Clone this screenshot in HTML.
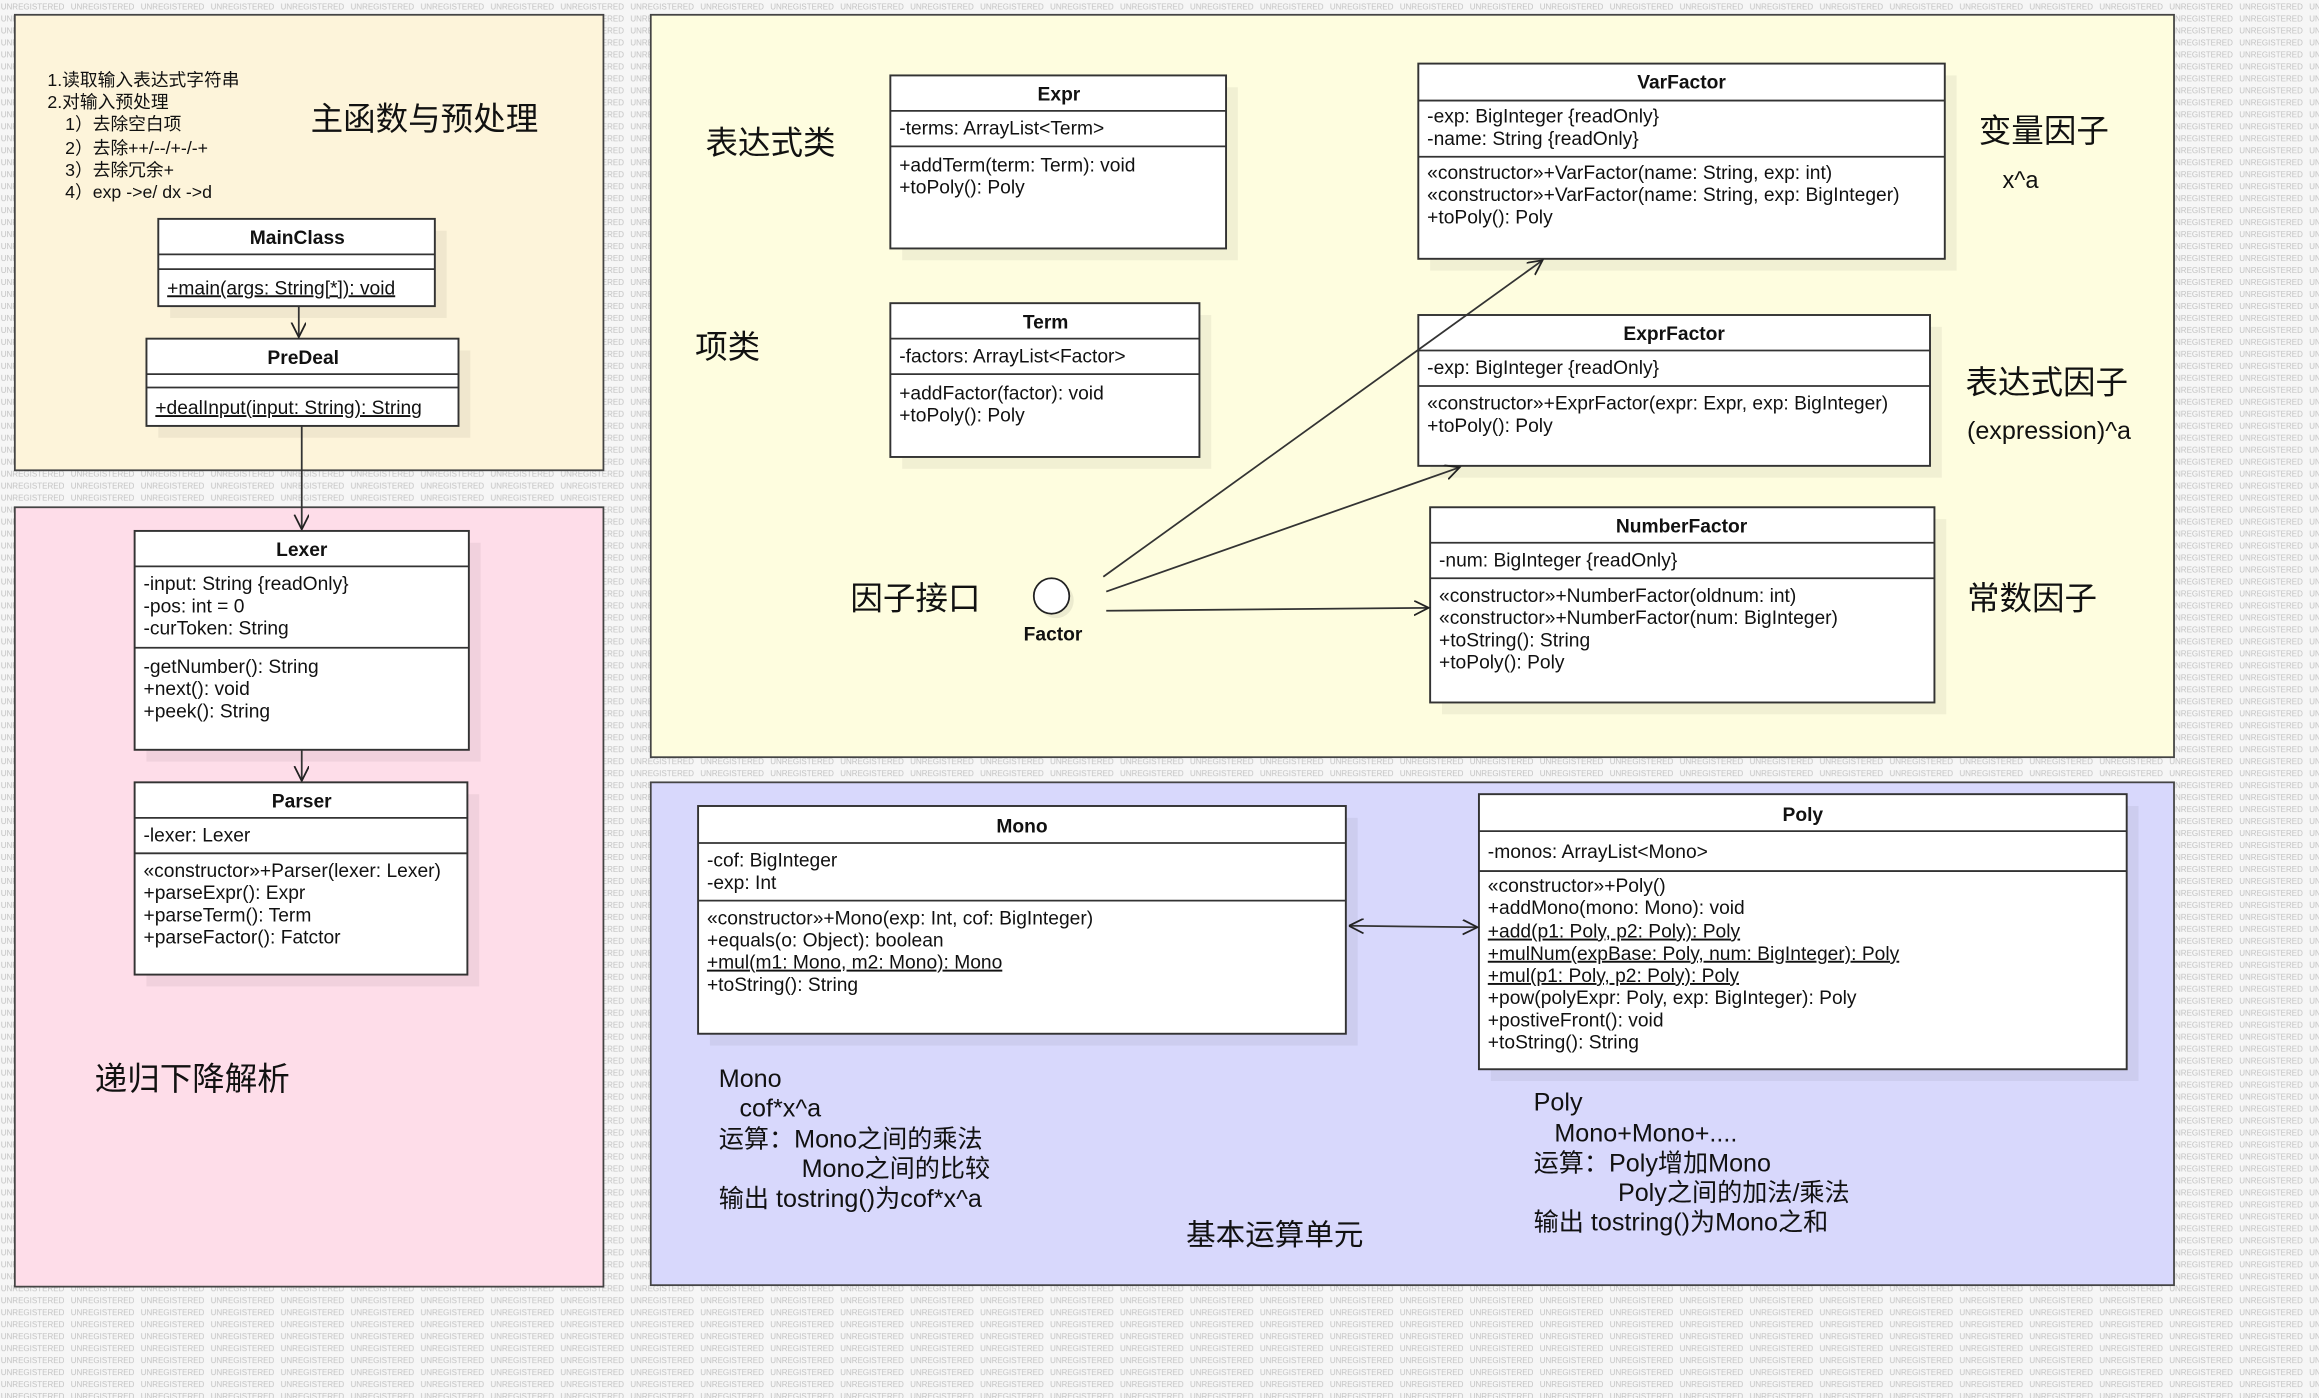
<!DOCTYPE html>
<html><head><meta charset="utf-8"><style>
html,body{margin:0;padding:0;background:#eeeeee;}
svg{display:block}
.t{font-family:"Liberation Sans","Noto Sans CJK SC",sans-serif;font-size:13px;fill:#111}
.b{font-weight:bold;text-anchor:middle}
.c{font-family:"Liberation Sans","Noto Sans CJK SC",sans-serif;fill:#111}
.box{fill:#fff;stroke:#333;stroke-width:1.3}
.sh{fill:#000;opacity:0.05}
.ln{stroke:#333;stroke-width:1.2}
.u{text-decoration:underline}
</style></head><body>
<svg width="2319" height="1398" viewBox="0 0 1568 945.3" xmlns="http://www.w3.org/2000/svg">
<defs>
<pattern id="wm" width="47.3" height="8.1" patternUnits="userSpaceOnUse">
<text x="0.5" y="6.5" font-family="Liberation Sans,sans-serif" font-size="5.5" fill="#c2c2c2" textLength="43" lengthAdjust="spacingAndGlyphs">UNREGISTERED</text>
</pattern>
<marker id="ar" markerWidth="12" markerHeight="12" refX="10" refY="5" orient="auto" markerUnits="userSpaceOnUse"><path d="M0,0 L10,5 L0,10" fill="none" stroke="#222" stroke-width="1.2"/></marker>
<marker id="as" markerWidth="12" markerHeight="12" refX="0" refY="5" orient="auto" markerUnits="userSpaceOnUse"><path d="M10,0 L0,5 L10,10" fill="none" stroke="#222" stroke-width="1.2"/></marker>
</defs>
<rect width="1568" height="946" fill="#f6f6f6"/>
<rect width="1568" height="946" fill="url(#wm)"/>

<rect x="10" y="10" width="398" height="308" fill="#fdf4da" stroke="#444" stroke-width="1.2"/>
<rect x="10" y="343" width="398" height="527" fill="#fedde9" stroke="#444" stroke-width="1.2"/>
<rect x="440" y="10" width="1030" height="502" fill="#fefddf" stroke="#444" stroke-width="1.2"/>
<rect x="440" y="529" width="1030" height="340" fill="#d8d8fc" stroke="#444" stroke-width="1.2"/>

<g class="c" font-size="12">
<text x="32" y="58">1.读取输入表达式字符串</text>
<text x="32" y="73">2.对输入预处理</text>
<text x="44" y="88">1）去除空白项</text>
<text x="44" y="104">2）去除++/--/+-/-+</text>
<text x="44" y="119">3）去除冗余+</text>
<text x="44" y="134">4）exp -&gt;e/ dx -&gt;d</text>
</g>
<text class="c" x="210" y="88" font-size="22">主函数与预处理</text>

<rect class="sh" x="115" y="156" width="187" height="59"/>
<rect class="box" x="107" y="148" width="187" height="59"/>
<line class="ln" x1="107" y1="172" x2="294" y2="172"/><line class="ln" x1="107" y1="182" x2="294" y2="182"/>
<text class="t b" x="201" y="165">MainClass</text>
<text class="t u" x="113" y="199">+main(args: String[*]): void</text>

<rect class="sh" x="107" y="237" width="211" height="59"/>
<rect class="box" x="99" y="229" width="211" height="59"/>
<line class="ln" x1="99" y1="253" x2="310" y2="253"/><line class="ln" x1="99" y1="262" x2="310" y2="262"/>
<text class="t b" x="205" y="246">PreDeal</text>
<text class="t u" x="105" y="280">+dealInput(input: String): String</text>
<line class="ln" x1="202" y1="207" x2="202" y2="228" marker-end="url(#ar)"/>
<line class="ln" x1="204" y1="288" x2="204" y2="358" marker-end="url(#ar)"/>

<rect class="sh" x="99" y="367" width="226" height="148"/>
<rect class="box" x="91" y="359" width="226" height="148"/>
<line class="ln" x1="91" y1="383" x2="317" y2="383"/><line class="ln" x1="91" y1="438" x2="317" y2="438"/>
<text class="t b" x="204" y="376">Lexer</text>
<text class="t" x="97" y="399">-input: String {readOnly}</text>
<text class="t" x="97" y="414">-pos: int = 0</text>
<text class="t" x="97" y="429">-curToken: String</text>
<text class="t" x="97" y="455">-getNumber(): String</text>
<text class="t" x="97" y="470">+next(): void</text>
<text class="t" x="97" y="485">+peek(): String</text>
<line class="ln" x1="204" y1="507" x2="204" y2="528" marker-end="url(#ar)"/>

<rect class="sh" x="99" y="537" width="225" height="130"/>
<rect class="box" x="91" y="529" width="225" height="130"/>
<line class="ln" x1="91" y1="553" x2="316" y2="553"/><line class="ln" x1="91" y1="577" x2="316" y2="577"/>
<text class="t b" x="204" y="546">Parser</text>
<text class="t" x="97" y="569">-lexer: Lexer</text>
<text class="t" x="97" y="593">«constructor»+Parser(lexer: Lexer)</text>
<text class="t" x="97" y="608">+parseExpr(): Expr</text>
<text class="t" x="97" y="623">+parseTerm(): Term</text>
<text class="t" x="97" y="638">+parseFactor(): Fatctor</text>
<text class="c" x="64" y="737" font-size="22">递归下降解析</text>

<rect class="sh" x="610" y="59" width="227" height="117"/>
<rect class="box" x="602" y="51" width="227" height="117"/>
<line class="ln" x1="602" y1="75" x2="829" y2="75"/><line class="ln" x1="602" y1="99" x2="829" y2="99"/>
<text class="t b" x="716" y="68">Expr</text>
<text class="t" x="608" y="91">-terms: ArrayList&lt;Term&gt;</text>
<text class="t" x="608" y="116">+addTerm(term: Term): void</text>
<text class="t" x="608" y="131">+toPoly(): Poly</text>

<rect class="sh" x="610" y="213" width="209" height="104"/>
<rect class="box" x="602" y="205" width="209" height="104"/>
<line class="ln" x1="602" y1="229" x2="811" y2="229"/><line class="ln" x1="602" y1="253" x2="811" y2="253"/>
<text class="t b" x="707" y="222">Term</text>
<text class="t" x="608" y="245">-factors: ArrayList&lt;Factor&gt;</text>
<text class="t" x="608" y="270">+addFactor(factor): void</text>
<text class="t" x="608" y="285">+toPoly(): Poly</text>

<text class="c" x="477" y="104" font-size="22">表达式类</text>
<text class="c" x="470" y="242" font-size="22">项类</text>
<text class="c" x="575" y="412" font-size="22">因子接口</text>

<rect class="sh" x="967" y="51" width="356" height="132"/>
<rect class="box" x="959" y="43" width="356" height="132"/>
<line class="ln" x1="959" y1="68" x2="1315" y2="68"/><line class="ln" x1="959" y1="106" x2="1315" y2="106"/>
<text class="t b" x="1137" y="60">VarFactor</text>
<text class="t" x="965" y="83">-exp: BigInteger {readOnly}</text>
<text class="t" x="965" y="98">-name: String {readOnly}</text>
<text class="t" x="965" y="121">«constructor»+VarFactor(name: String, exp: int)</text>
<text class="t" x="965" y="136">«constructor»+VarFactor(name: String, exp: BigInteger)</text>
<text class="t" x="965" y="151">+toPoly(): Poly</text>

<rect class="sh" x="967" y="221" width="346" height="102"/>
<rect class="box" x="959" y="213" width="346" height="102"/>
<line class="ln" x1="959" y1="237" x2="1305" y2="237"/><line class="ln" x1="959" y1="261" x2="1305" y2="261"/>
<text class="t b" x="1132" y="230">ExprFactor</text>
<text class="t" x="965" y="253">-exp: BigInteger {readOnly}</text>
<text class="t" x="965" y="277">«constructor»+ExprFactor(expr: Expr, exp: BigInteger)</text>
<text class="t" x="965" y="292">+toPoly(): Poly</text>

<rect class="sh" x="975" y="351" width="341" height="132"/>
<rect class="box" x="967" y="343" width="341" height="132"/>
<line class="ln" x1="967" y1="367" x2="1308" y2="367"/><line class="ln" x1="967" y1="391" x2="1308" y2="391"/>
<text class="t b" x="1137" y="360">NumberFactor</text>
<text class="t" x="973" y="383">-num: BigInteger {readOnly}</text>
<text class="t" x="973" y="407">«constructor»+NumberFactor(oldnum: int)</text>
<text class="t" x="973" y="422">«constructor»+NumberFactor(num: BigInteger)</text>
<text class="t" x="973" y="437">+toString(): String</text>
<text class="t" x="973" y="452">+toPoly(): Poly</text>

<text class="c" x="1338" y="96" font-size="22">变量因子</text>
<text class="c" x="1354" y="127" font-size="16">x^a</text>
<text class="c" x="1329" y="266" font-size="22">表达式因子</text>
<text class="c" x="1330" y="297" font-size="17">(expression)^a</text>
<text class="c" x="1330" y="412" font-size="22">常数因子</text>

<circle cx="714" cy="406" r="12" fill="#000" opacity="0.07"/>
<circle cx="711" cy="403" r="12" fill="#fff" stroke="#222" stroke-width="1.2"/>
<text class="t b" x="712" y="433">Factor</text>
<line class="ln" x1="746" y1="390" x2="1043" y2="176" marker-end="url(#ar)"/>
<line class="ln" x1="748" y1="400" x2="987" y2="316" marker-end="url(#ar)"/>
<line class="ln" x1="748" y1="413" x2="966" y2="411" marker-end="url(#ar)"/>

<rect class="sh" x="480" y="553" width="438" height="154"/>
<rect class="box" x="472" y="545" width="438" height="154"/>
<line class="ln" x1="472" y1="570" x2="910" y2="570"/><line class="ln" x1="472" y1="609" x2="910" y2="609"/>
<text class="t b" x="691" y="563">Mono</text>
<text class="t" x="478" y="586">-cof: BigInteger</text>
<text class="t" x="478" y="601">-exp: Int</text>
<text class="t" x="478" y="625">«constructor»+Mono(exp: Int, cof: BigInteger)</text>
<text class="t" x="478" y="640">+equals(o: Object): boolean</text>
<text class="t u" x="478" y="655">+mul(m1: Mono, m2: Mono): Mono</text>
<text class="t" x="478" y="670">+toString(): String</text>

<rect class="sh" x="1008" y="545" width="438" height="186"/>
<rect class="box" x="1000" y="537" width="438" height="186"/>
<line class="ln" x1="1000" y1="562" x2="1438" y2="562"/><line class="ln" x1="1000" y1="589" x2="1438" y2="589"/>
<text class="t b" x="1219" y="555">Poly</text>
<text class="t" x="1006" y="580">-monos: ArrayList&lt;Mono&gt;</text>
<text class="t" x="1006" y="603">«constructor»+Poly()</text>
<text class="t" x="1006" y="618">+addMono(mono: Mono): void</text>
<text class="t u" x="1006" y="634">+add(p1: Poly, p2: Poly): Poly</text>
<text class="t u" x="1006" y="649">+mulNum(expBase: Poly, num: BigInteger): Poly</text>
<text class="t u" x="1006" y="664">+mul(p1: Poly, p2: Poly): Poly</text>
<text class="t" x="1006" y="679">+pow(polyExpr: Poly, exp: BigInteger): Poly</text>
<text class="t" x="1006" y="694">+postiveFront(): void</text>
<text class="t" x="1006" y="709">+toString(): String</text>
<line class="ln" x1="912" y1="626" x2="999" y2="627" marker-start="url(#as)" marker-end="url(#ar)"/>

<g class="c" font-size="17">
<text x="486" y="735">Mono</text>
<text x="500" y="755">cof*x^a</text>
<text x="486" y="776">运算：Mono之间的乘法</text>
<text x="542" y="796">Mono之间的比较</text>
<text x="486" y="816">输出 tostring()为cof*x^a</text>
<text x="1037" y="751">Poly</text>
<text x="1051" y="772">Mono+Mono+....</text>
<text x="1037" y="792">运算：Poly增加Mono</text>
<text x="1094" y="812">Poly之间的加法/乘法</text>
<text x="1037" y="832">输出 tostring()为Mono之和</text>
</g>
<text class="c" x="802" y="842" font-size="20">基本运算单元</text>
</svg>
</body></html>
